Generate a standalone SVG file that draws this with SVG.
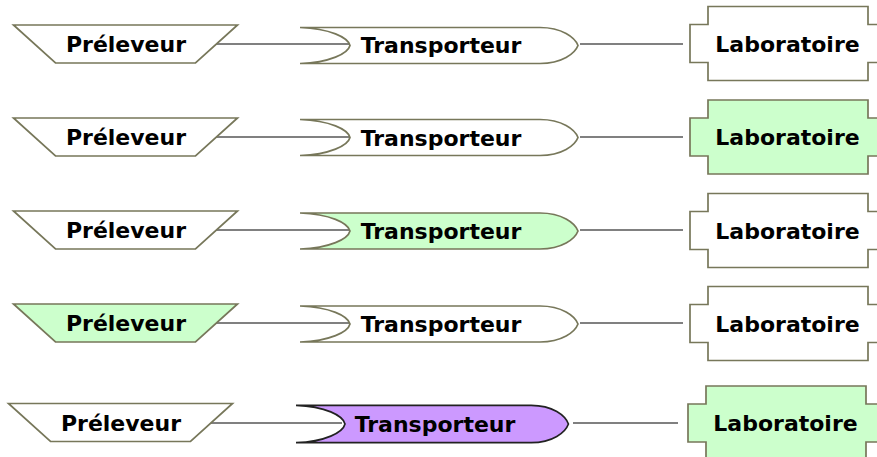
<svg xmlns="http://www.w3.org/2000/svg" xmlns:xlink="http://www.w3.org/1999/xlink" width="877" height="457" viewBox="0 0 877 457">
<style>
  .lbl { font-family: "DejaVu Sans", "Liberation Sans", sans-serif; font-weight: bold; font-size: 22px; fill: #000; text-anchor: middle; }
  .node { stroke: #77775a; stroke-width: 1.7; stroke-linejoin: miter; }
  .w { fill: #ffffff; }
  .g { fill: #ccffcc; }
  .p { fill: #cc99ff; stroke: #222222; }
  .conn line { stroke: #808080; stroke-width: 2; }
</style>
<defs>
  <path id="prel" d="M-112,-19 L112,-19 L70,19 L-70,19 Z"/>
  <path id="trans" d="M0,-18 L240,-18 C262,-18 275,-8 278,0 C275,8 262,18 240,18 L0,18 C30,17 48,8 50,0 C48,-8 30,-17 0,-18 Z"/>
  <path id="lab" d="M-80,-37 H80 V-19 H98 V19 H80 V37 H-80 V19 H-98 V-19 H-80 Z"/>
</defs>
<rect width="877" height="457" fill="#ffffff"/>
<g id="connectors" class="conn">
  <line x1="215" y1="44" x2="350" y2="44"/>
  <line x1="580" y1="44" x2="683" y2="44"/>
  <line x1="215" y1="137" x2="350" y2="137"/>
  <line x1="580" y1="137" x2="683" y2="137"/>
  <line x1="215" y1="230" x2="350" y2="230"/>
  <line x1="580" y1="230" x2="683" y2="230"/>
  <line x1="215" y1="323" x2="350" y2="323"/>
  <line x1="580" y1="323" x2="683" y2="323"/>
  <line x1="211" y1="423" x2="342" y2="423"/>
  <line x1="573" y1="423" x2="678" y2="423"/>
</g>
<!-- Row 1 -->
<g id="preleveur1"><use xlink:href="#prel" class="node w" transform="translate(125.5,44)"/><text class="lbl" x="126" y="52">Préleveur</text></g>
<g id="transporteur1"><use xlink:href="#trans" class="node w" transform="translate(300,45.5)"/><text class="lbl" x="441" y="53">Transporteur</text></g>
<g id="laboratoire1"><use xlink:href="#lab" class="node w" transform="translate(788,43.5)"/><text class="lbl" x="787.5" y="52">Laboratoire</text></g>
<!-- Row 2 -->
<g id="preleveur2"><use xlink:href="#prel" class="node w" transform="translate(125.5,137)"/><text class="lbl" x="126" y="145">Préleveur</text></g>
<g id="transporteur2"><use xlink:href="#trans" class="node w" transform="translate(300,137.5)"/><text class="lbl" x="441" y="145.5">Transporteur</text></g>
<g id="laboratoire2"><use xlink:href="#lab" class="node g" transform="translate(788,137)"/><text class="lbl" x="787.5" y="145">Laboratoire</text></g>
<!-- Row 3 -->
<g id="preleveur3"><use xlink:href="#prel" class="node w" transform="translate(125.5,230)"/><text class="lbl" x="126" y="238">Préleveur</text></g>
<g id="transporteur3"><use xlink:href="#trans" class="node g" transform="translate(300,231)"/><text class="lbl" x="441" y="239">Transporteur</text></g>
<g id="laboratoire3"><use xlink:href="#lab" class="node w" transform="translate(788,230.5)"/><text class="lbl" x="787.5" y="238.5">Laboratoire</text></g>
<!-- Row 4 -->
<g id="preleveur4"><use xlink:href="#prel" class="node g" transform="translate(125.5,323)"/><text class="lbl" x="126" y="331">Préleveur</text></g>
<g id="transporteur4"><use xlink:href="#trans" class="node w" transform="translate(300,324)"/><text class="lbl" x="441" y="332">Transporteur</text></g>
<g id="laboratoire4"><use xlink:href="#lab" class="node w" transform="translate(788,323.5)"/><text class="lbl" x="787.5" y="331.5">Laboratoire</text></g>
<!-- Row 5 -->
<g id="preleveur5"><use xlink:href="#prel" class="node w" transform="translate(120.5,422.5)"/><text class="lbl" x="121" y="431">Préleveur</text></g>
<g id="transporteur5"><use xlink:href="#trans" class="node p" transform="translate(296,424) scale(0.98,1.04)"/><text class="lbl" x="435" y="432">Transporteur</text></g>
<g id="laboratoire5"><use xlink:href="#lab" class="node g" transform="translate(786,423)"/><text class="lbl" x="785.5" y="431">Laboratoire</text></g>
</svg>
